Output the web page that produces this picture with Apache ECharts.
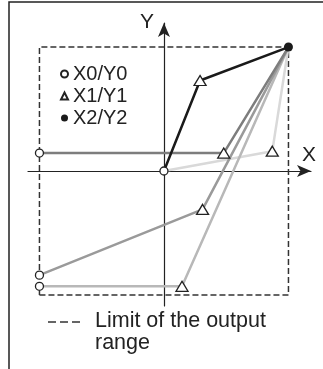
<!DOCTYPE html>
<html>
<head>
<meta charset="utf-8">
<script src="https://cdn.jsdelivr.net/npm/echarts@6/dist/echarts.min.js"></script>
<style>
  html, body { margin: 0; padding: 0; background: #fff; }
  #main { width: 323px; height: 369px; }
</style>
</head>
<body>
<div id="main"></div>
<script>
// curves: [x0,y0] -> [x1,y1] -> [x2,y2], units of the output range (+-10)
var curveBlack    = [[0, 0], [2.9, 7.3], [10, 10]];
var curveDark     = [[-10, 1.45], [4.8, 1.45], [10, 10]];
var curveLightest = [[0, 0], [8.7, 1.6], [10, 10]];
var curveMedium   = [[-10, -8.4], [3.1, -3.1], [10, 10]];
var curveLight    = [[-10, -9.3], [1.45, -9.3], [10, 10]];

var limitRect = [[-10, -10], [10, -10], [10, 10], [-10, 10], [-10, -10]];

var startPoints = [[0, 0], [-10, 1.45], [-10, -8.4], [-10, -9.3]];
var midPoints = [[2.9, 7.3], [4.8, 1.45], [8.7, 1.6], [3.1, -3.1], [1.45, -9.3]];
var endPoints = [[10, 10]];

var legendNames = ['X0/Y0', 'X1/Y1', 'X2/Y2'];

var myChart = echarts.init(document.getElementById('main'));

function curve(data, color) {
  return {
    type: 'line', data: data, symbol: 'none', z: 3, silent: true,
    lineStyle: { color: color, width: 2.5 }
  };
}

myChart.setOption({
  animation: false,
  grid: { left: 28, right: 12, top: 23, bottom: 63 },
  xAxis: {
    type: 'value', min: -10.92, max: 11.81,
    axisLine: { onZero: true, symbol: ['none', 'arrow'], symbolSize: [9, 14],
      lineStyle: { color: '#222', width: 1.2 } },
    axisTick: { show: false }, axisLabel: { show: false }, splitLine: { show: false }
  },
  yAxis: {
    type: 'value', min: -10.89, max: 11.94,
    axisLine: { onZero: true, symbol: ['none', 'arrow'], symbolSize: [9, 14],
      lineStyle: { color: '#222', width: 1.2 } },
    axisTick: { show: false }, axisLabel: { show: false }, splitLine: { show: false }
  },
  legend: {
    data: legendNames, orient: 'vertical', left: 55, top: 59,
    itemWidth: 7, itemHeight: 7, itemGap: 2,
    textStyle: { fontFamily: 'Liberation Sans', fontSize: 20, color: '#222' }
  },
  graphic: [
    { type: 'rect', shape: { x: 9, y: 2, width: 340, height: 400 },
      style: { fill: 'none', stroke: '#222', lineWidth: 1.5 } },
    { type: 'text', x: 147, y: 22,
      style: { text: 'Y', font: '21px "Liberation Sans"', fill: '#222', align: 'center', verticalAlign: 'middle' } },
    { type: 'text', x: 309, y: 155,
      style: { text: 'X', font: '21px "Liberation Sans"', fill: '#222', align: 'center', verticalAlign: 'middle' } },
    { type: 'line', shape: { x1: 48, y1: 322, x2: 84, y2: 322 },
      style: { stroke: '#333', lineWidth: 1.5, lineDash: [8, 4] } },
    { type: 'text', x: 95, y: 310,
      style: { text: 'Limit of the output\nrange', font: '21.5px "Liberation Sans"', lineHeight: 22,
        fill: '#222', align: 'left', verticalAlign: 'top' } }
  ],
  series: [
    { type: 'line', data: limitRect, symbol: 'none', z: 2, silent: true,
      lineStyle: { color: '#333', width: 1.5, type: [6, 3] } },
    curve(curveLightest, '#d9d9d9'),
    curve(curveLight, '#b8b8b8'),
    curve(curveMedium, '#9a9a9a'),
    curve(curveDark, '#7d7d7d'),
    curve(curveBlack, '#1a1a1a'),
    { name: 'X0/Y0', type: 'scatter', data: startPoints, symbol: 'circle', symbolSize: 8, z: 5,
      itemStyle: { color: '#fff', borderColor: '#222', borderWidth: 1.3, opacity: 1 } },
    { name: 'X1/Y1', type: 'scatter', data: midPoints, symbol: 'triangle', symbolSize: [12, 10], z: 5,
      itemStyle: { color: '#fff', borderColor: '#222', borderWidth: 1.3, opacity: 1 } },
    { name: 'X2/Y2', type: 'scatter', data: endPoints, symbol: 'circle', symbolSize: 9, z: 5,
      itemStyle: { color: '#1a1a1a', borderColor: '#1a1a1a', borderWidth: 0, opacity: 1 } }
  ]
});
</script>
</body>
</html>
